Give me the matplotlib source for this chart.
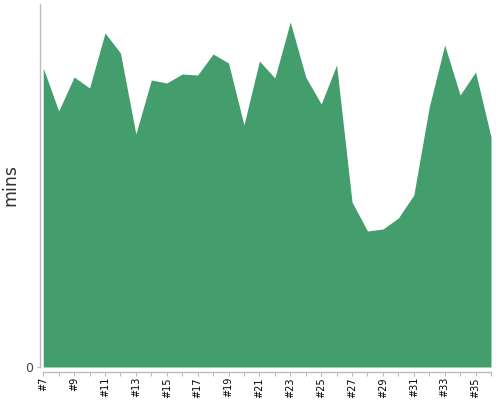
import matplotlib
matplotlib.use('Agg')
import matplotlib.pyplot as plt

# build numbers and duration (mins)
builds = list(range(7, 37))
mins = [29.9, 25.6, 29.0, 27.9, 33.4, 31.4, 23.3, 28.7, 28.4, 29.3,
        29.2, 31.3, 30.4, 24.2, 30.6, 28.9, 34.5, 29.0, 26.3, 30.2,
        16.5, 13.6, 13.8, 14.9, 17.2, 26.0, 32.2, 27.2, 29.5, 23.0]
labels = ['#%d' % b if b % 2 == 1 else '' for b in builds]

GREEN = '#449d6c'
AXIS = '#bbbbbb'
PX = 72 / 100  # one pixel in points

fig = plt.figure(figsize=(5, 4), dpi=100, facecolor='white')
ax = fig.add_axes([0.08, 0.0825, 0.902, 0.9075])

ax.fill_between(builds, mins, 0, color=GREEN, lw=0, antialiased=True)
ax.set_xlim(6.79, 36)
ax.set_ylim(0, 36.3)

for s in ['top', 'right']:
    ax.spines[s].set_visible(False)
ax.spines['bottom'].set_position(('outward', 5 * PX))
ax.spines['bottom'].set_bounds(7, 36)
for s in ['left', 'bottom']:
    ax.spines[s].set_color(AXIS)
    ax.spines[s].set_linewidth(1)

ax.set_xticks(builds)
ax.set_xticklabels(labels, rotation=90, fontsize=7, color='black')
ax.tick_params(axis='x', length=4 * PX, color=AXIS, pad=1 * PX)
ax.set_yticks([0])
ax.set_yticklabels(['0'], fontsize=9, color='#444444')
ax.tick_params(axis='y', length=3 * PX, color=AXIS, pad=4 * PX)

ax.set_ylabel('mins', fontsize=12.5, color='#333333')
ax.yaxis.set_label_coords(-0.046, 0.5)

plt.savefig('out.png', dpi=100, facecolor='white')
